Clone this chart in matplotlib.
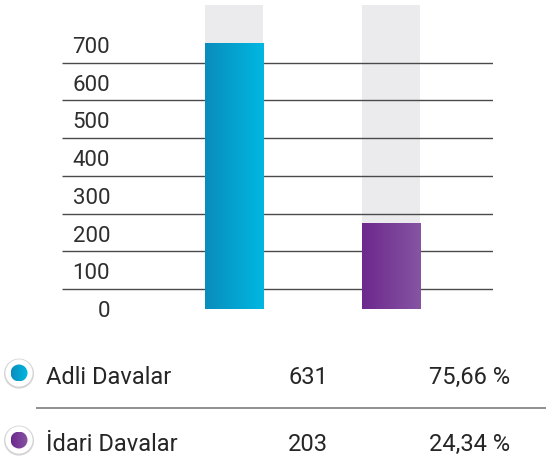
import numpy as np
import matplotlib
matplotlib.use("Agg")
import matplotlib.pyplot as plt
from matplotlib.colors import LinearSegmentedColormap
from matplotlib.patches import Circle

plt.rcParams["font.family"] = ["Roboto", "DejaVu Sans"]

categories = ["Adli Davalar", "İdari Davalar"]
values = [631, 203]
percents = ["75,66 %", "24,34 %"]
tick_values = [0, 100, 200, 300, 400, 500, 600, 700]
grid_levels = [53, 153, 253, 353, 453, 553, 653]
gradients = [("#0b8cbc", "#00b8e2"), ("#6d288d", "#8555a2")]

W, H = 546, 461


def px_rect(left, top, right, bottom):
    return [left / W, 1 - bottom / H, (right - left) / W, (bottom - top) / H]


def gradient_fill(axis, patch, c0, c1, extent):
    cmap = LinearSegmentedColormap.from_list("grad", [c0, c1])
    im = axis.imshow(np.linspace(0, 1, 256).reshape(1, -1), cmap=cmap,
                     extent=extent, aspect="auto", zorder=patch.get_zorder())
    im.set_clip_path(patch)


fig = plt.figure(figsize=(W / 100, H / 100), dpi=100)

ax = fig.add_axes(px_rect(62, 5, 493, 309))
ax_bar = ax.twinx()

x = np.arange(len(values))
bar_w = 0.37
xlim = (-1.096, 1.65)
grid_top = 806
bar_top = 721

# grey backing bars + lines (lower axes)
ax.bar(x, grid_top, width=bar_w, color="#ebebed", zorder=0)
ax.hlines(grid_levels, *xlim, color="#4a4a4a", lw=1, zorder=1)
for t in tick_values:
    ax.text(-0.79, t, str(t), ha="right", va="center_baseline",
            fontsize=16, color="#2e2e2e")

# coloured bars with horizontal gradient
bars = ax_bar.bar(x, values, width=bar_w, color="none", zorder=2)
for bar, (c0, c1) in zip(bars, gradients):
    x0, y0 = bar.get_x(), bar.get_y()
    gradient_fill(ax_bar, bar, c0, c1,
                  [x0, x0 + bar.get_width(), y0, y0 + bar.get_height()])

ax.set_xlim(*xlim)
ax_bar.set_xlim(*xlim)
ax.set_ylim(0, grid_top)
ax_bar.set_ylim(0, bar_top)
ax.axis("off")
ax_bar.axis("off")

# legend table underneath
ov = fig.add_axes([0, 0, 1, 1])
ov.set_xlim(0, W)
ov.set_ylim(H, 0)
ov.axis("off")

baselines = [384, 451]
for name, val, pct, base, (c0, c1) in zip(categories, values, percents,
                                           baselines, gradients):
    cy = base - 11
    ov.add_patch(Circle((19, cy + 0.6), 15, facecolor="#d4d4d4", edgecolor="none"))
    ov.add_patch(Circle((19, cy), 13.6, facecolor="white", edgecolor="none"))
    dot = Circle((19, cy), 8.5, facecolor="none", edgecolor="none", zorder=3)
    ov.add_patch(dot)
    gradient_fill(ov, dot, c0, c1, [10.5, 27.5, cy + 8.5, cy - 8.5])
    ov.text(46, base, name, ha="left", va="baseline", fontsize=17, color="#262626")
    ov.text(288, base, str(val), ha="left", va="baseline", fontsize=17, color="#262626")
    ov.text(429, base, pct, ha="left", va="baseline", fontsize=17, color="#262626")

ov.plot([37, W], [408, 408], color="#8f8f8f", lw=1.4)
ov.set_xlim(0, W)
ov.set_ylim(H, 0)

fig.savefig("out.png", dpi=100)
